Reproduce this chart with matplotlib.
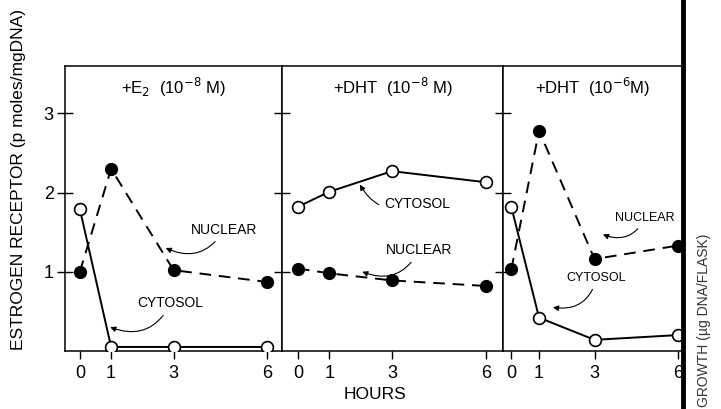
import numpy as np
import matplotlib.pyplot as plt
from matplotlib.lines import Line2D

plt.rcParams['font.family'] = ['Liberation Sans', 'DejaVu Sans']

hours = [0, 1, 3, 6]
hour_labels = ['0', '1', '3', '6']

e2_cytosol = [1.79, 0.05, 0.05, 0.05]
e2_nuclear = [1.0, 2.3, 1.02, 0.87]
dht8_cytosol = [1.82, 2.01, 2.27, 2.13]
dht8_nuclear = [1.04, 0.98, 0.89, 0.82]
dht6_cytosol = [1.82, 0.42, 0.14, 0.2]
dht6_nuclear = [1.03, 2.78, 1.16, 1.33]

titles = ['+E$_2$  (10$^{-8}$ M)', '+DHT  (10$^{-8}$ M)', '+DHT  (10$^{-6}$M)']
cytosol = [e2_cytosol, dht8_cytosol, dht6_cytosol]
nuclear = [e2_nuclear, dht8_nuclear, dht6_nuclear]

# label text position, arrow tip (data coords), font size
labels = [
    [('NUCLEAR', (3.55, 1.53), (2.75, 1.3), 10), ('CYTOSOL', (1.85, 0.6), (0.97, 0.3), 10)],
    [('CYTOSOL', (2.75, 1.86), (1.98, 2.1), 10), ('NUCLEAR', (2.8, 1.27), (2.05, 1.0), 10)],
    [('NUCLEAR', (3.75, 1.68), (3.3, 1.47), 9), ('CYTOSOL', (2.0, 0.92), (1.5, 0.55), 9)],
]

rects = [
    [0.090, 0.142, 0.301, 0.697],
    [0.391, 0.142, 0.307, 0.697],
    [0.698, 0.142, 0.249, 0.697],
]
xlims = [(-0.48, 6.47), (-0.51, 6.55), (-0.29, 6.18)]

fig = plt.figure(figsize=(7.21, 4.09), dpi=100)

for i in range(3):
    ax = fig.add_axes(rects[i])
    ax.plot(hours, nuclear[i], color='black', lw=1.4, ls=(0, (6, 4)),
            marker='o', ms=8.5, mfc='black', mec='black', zorder=3)
    ax.plot(hours, cytosol[i], color='black', lw=1.4, ls='-',
            marker='o', ms=8.5, mfc='white', mec='black', mew=1.2, zorder=4)
    ax.set_xlim(*xlims[i])
    ax.set_ylim(0, 3.6)
    ax.set_xticks(hours)
    ax.set_xticklabels(hour_labels)
    ax.set_yticks([1, 2, 3])
    ax.tick_params(axis='x', direction='out', length=6, width=1, labelsize=13, pad=4)
    ax.tick_params(axis='y', direction='inout', length=12, width=1, labelsize=13, pad=2)
    if i > 0:
        ax.set_yticklabels([])
    for sp in ax.spines.values():
        sp.set_linewidth(1.1)
    if i == 2:
        ax.spines['right'].set_visible(False)
    ax.text(0.5, 0.965, titles[i], transform=ax.transAxes, ha='center', va='top',
            fontsize=12)
    for txt, pos, tip, fs in labels[i]:
        ax.annotate(txt, xy=tip, xytext=pos, ha='left', va='center', fontsize=fs,
                    arrowprops=dict(arrowstyle='-|>', color='black', lw=0.8,
                                    mutation_scale=8, shrinkA=2, shrinkB=0,
                                    connectionstyle='arc3,rad=-0.45'))
    if i == 0:
        ax.set_ylabel('ESTROGEN RECEPTOR (p moles/mgDNA)', fontsize=12.5)
        ax.yaxis.set_label_coords(-0.18, 0.6)

# edge of the neighbouring figure in the scan
fig.add_artist(Line2D([0.947, 0.947], [0, 1], transform=fig.transFigure,
                      color='black', lw=3.5))
fig.text(0.977, 0.43, 'GROWTH (\u00b5g DNA/FLASK)', rotation=90, ha='center', va='top',
         fontsize=10, color='#333333')

fig.text(0.52, 0.035, 'HOURS', ha='center', va='center', fontsize=12.5)

fig.savefig('out.png', dpi=100)
